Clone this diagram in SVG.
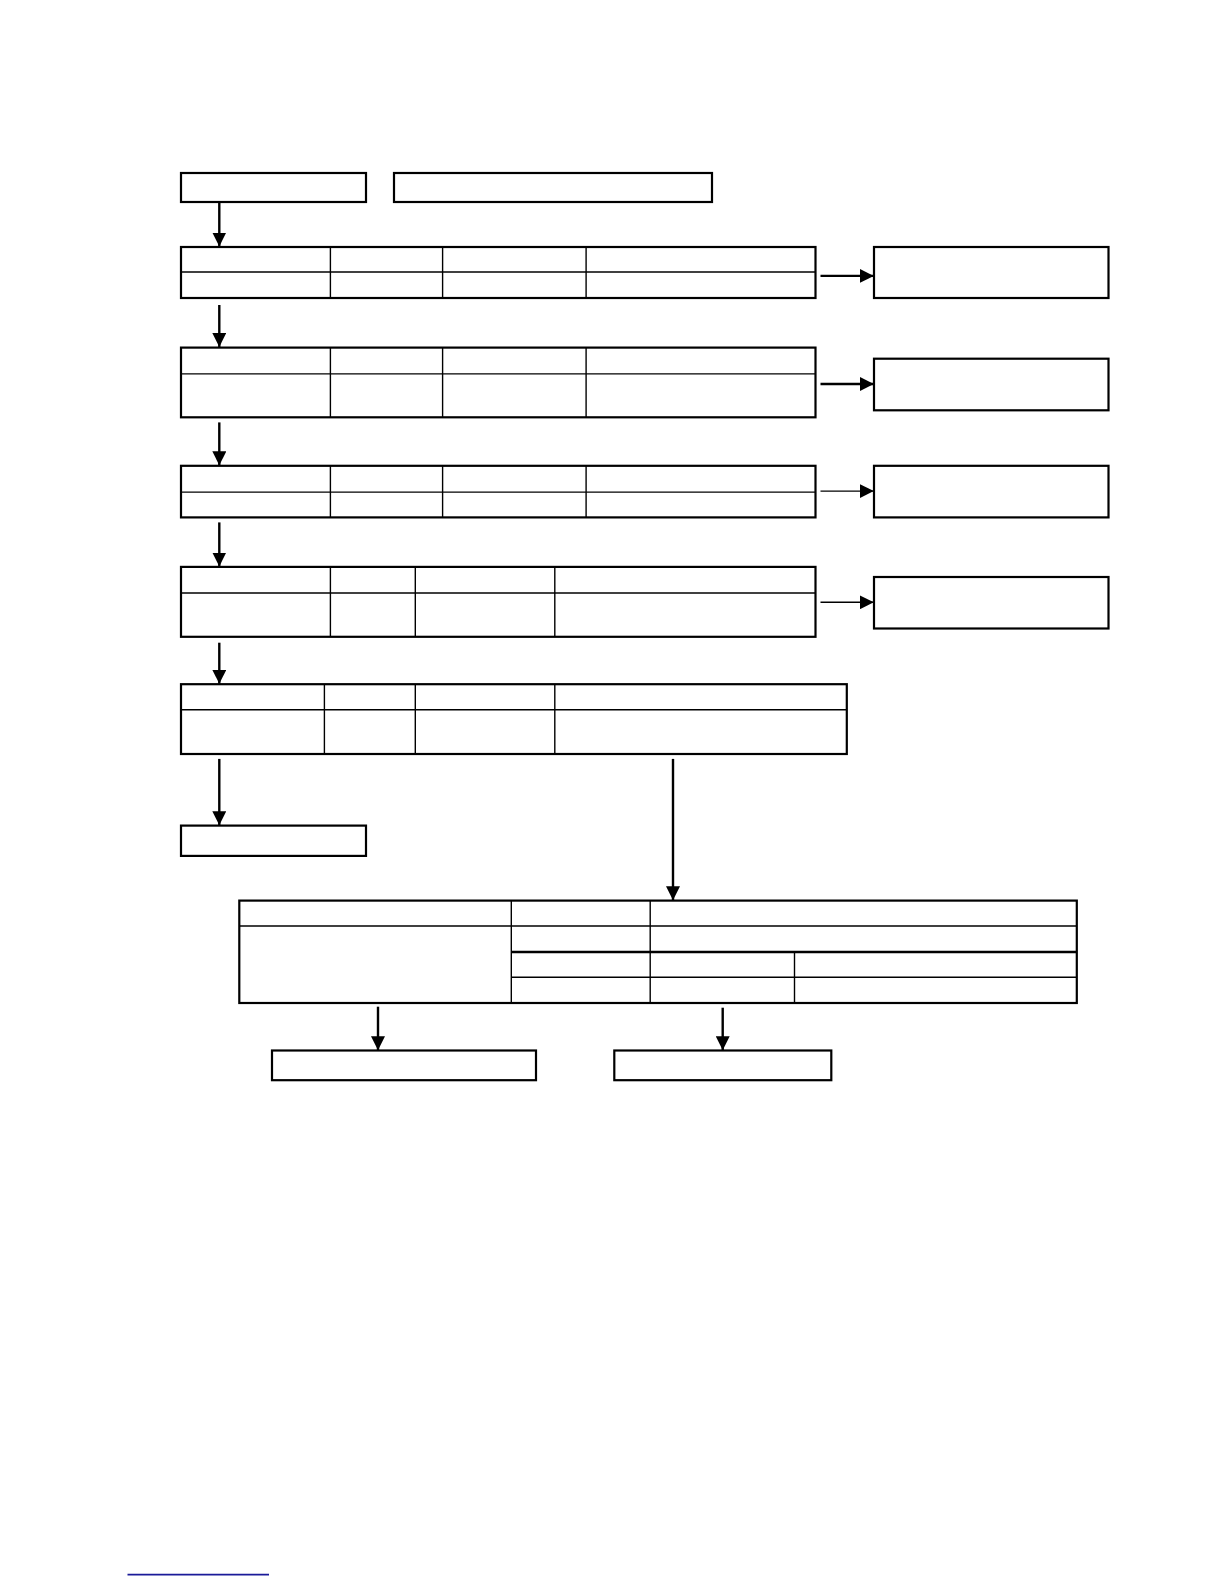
<svg xmlns="http://www.w3.org/2000/svg" width="1224" height="1584" viewBox="0 0 1224 1584">
<style>
  .box{fill:#fff;stroke:#000;stroke-width:2.2}
  .in{stroke:#000;stroke-width:1.4;fill:none}
  .thk{stroke:#000;stroke-width:2.4;fill:none}
  .conn{stroke:#000;stroke-width:2.4;fill:none}
  .thin{stroke:#000;stroke-width:1.4;fill:none}
</style>
<defs>
  <marker id="ah" viewBox="0 0 14 14" markerWidth="14" markerHeight="14" refX="14" refY="7" orient="auto" markerUnits="userSpaceOnUse">
    <path d="M0,0 L14,7 L0,14 Z" fill="#000"/>
  </marker>
</defs>
<rect width="1224" height="1584" fill="#fff"/>

<g id="box-start"><rect class="box" x="181" y="173" width="185" height="29"/></g>
<g id="box-title"><rect class="box" x="394" y="173" width="318" height="29"/></g>

<g id="table1">
  <rect class="box" x="181" y="247" width="634.5" height="51"/>
  <line class="in" x1="181" y1="272" x2="815.5" y2="272"/>
  <line class="in" x1="330.4" y1="247" x2="330.4" y2="298"/>
  <line class="in" x1="442.6" y1="247" x2="442.6" y2="298"/>
  <line class="in" x1="586.1" y1="247" x2="586.1" y2="298"/>
</g>
<g id="side1"><rect class="box" x="874" y="247" width="234.5" height="51"/></g>

<g id="table2">
  <rect class="box" x="181" y="347.6" width="634.5" height="69.7"/>
  <line class="in" x1="181" y1="373.9" x2="815.5" y2="373.9"/>
  <line class="in" x1="330.4" y1="347.6" x2="330.4" y2="417.3"/>
  <line class="in" x1="442.6" y1="347.6" x2="442.6" y2="417.3"/>
  <line class="in" x1="586.1" y1="347.6" x2="586.1" y2="417.3"/>
</g>
<g id="side2"><rect class="box" x="874" y="358.7" width="234.5" height="51.6"/></g>

<g id="table3">
  <rect class="box" x="181" y="465.8" width="634.5" height="51.6"/>
  <line class="in" x1="181" y1="492.1" x2="815.5" y2="492.1"/>
  <line class="in" x1="330.4" y1="465.8" x2="330.4" y2="517.4"/>
  <line class="in" x1="442.6" y1="465.8" x2="442.6" y2="517.4"/>
  <line class="in" x1="586.1" y1="465.8" x2="586.1" y2="517.4"/>
</g>
<g id="side3"><rect class="box" x="874" y="465.8" width="234.5" height="51.6"/></g>

<g id="table4">
  <rect class="box" x="181" y="566.9" width="634.5" height="69.9"/>
  <line class="in" x1="181" y1="593" x2="815.5" y2="593"/>
  <line class="in" x1="330.4" y1="566.9" x2="330.4" y2="636.8"/>
  <line class="in" x1="415.3" y1="566.9" x2="415.3" y2="636.8"/>
  <line class="in" x1="554.8" y1="566.9" x2="554.8" y2="636.8"/>
</g>
<g id="side4"><rect class="box" x="874" y="577" width="234.5" height="51.5"/></g>

<g id="table5">
  <rect class="box" x="181" y="684.2" width="665.8" height="69.8"/>
  <line class="in" x1="181" y1="709.8" x2="846.8" y2="709.8"/>
  <line class="in" x1="324.4" y1="684.2" x2="324.4" y2="754"/>
  <line class="in" x1="415.3" y1="684.2" x2="415.3" y2="754"/>
  <line class="in" x1="554.8" y1="684.2" x2="554.8" y2="754"/>
</g>

<g id="box-end"><rect class="box" x="181" y="825.6" width="185" height="30.3"/></g>

<g id="table6">
  <rect class="box" x="239.3" y="900.6" width="837.5" height="102.4"/>
  <line class="in" x1="239.3" y1="926" x2="1076.8" y2="926"/>
  <line class="thk" x1="511.3" y1="952" x2="1076.8" y2="952"/>
  <line class="in" x1="511.3" y1="977.3" x2="1076.8" y2="977.3"/>
  <line class="in" x1="511.3" y1="900.6" x2="511.3" y2="1003"/>
  <line class="in" x1="650.2" y1="900.6" x2="650.2" y2="1003"/>
  <line class="in" x1="794.5" y1="952" x2="794.5" y2="1003"/>
</g>

<g id="box-out1"><rect class="box" x="272" y="1050.5" width="264" height="29.7"/></g>
<g id="box-out2"><rect class="box" x="614.3" y="1050.5" width="217" height="29.7"/></g>

<g id="connectors">
  <line class="conn" x1="219.3" y1="202" x2="219.3" y2="246.5" marker-end="url(#ah)"/>
  <line class="conn" x1="219.3" y1="305" x2="219.3" y2="347" marker-end="url(#ah)"/>
  <line class="conn" x1="219.3" y1="422.4" x2="219.3" y2="465.3" marker-end="url(#ah)"/>
  <line class="conn" x1="219.3" y1="522.4" x2="219.3" y2="566.5" marker-end="url(#ah)"/>
  <line class="conn" x1="219.3" y1="642.7" x2="219.3" y2="683.8" marker-end="url(#ah)"/>
  <line class="conn" x1="219.3" y1="758.9" x2="219.3" y2="825.2" marker-end="url(#ah)"/>
  <line class="conn" x1="673" y1="758.9" x2="673" y2="900.2" marker-end="url(#ah)"/>
  <line class="conn" x1="378" y1="1006.7" x2="378" y2="1050.2" marker-end="url(#ah)"/>
  <line class="conn" x1="722.7" y1="1007.7" x2="722.7" y2="1050.2" marker-end="url(#ah)"/>
  <line class="conn" x1="820.5" y1="275.9" x2="873.8" y2="275.9" marker-end="url(#ah)"/>
  <line class="conn" x1="820.5" y1="384" x2="873.8" y2="384" marker-end="url(#ah)"/>
  <line class="thin" x1="820.5" y1="491.1" x2="873.8" y2="491.1" marker-end="url(#ah)"/>
  <line class="thin" x1="820.5" y1="602.3" x2="873.8" y2="602.3" marker-end="url(#ah)"/>
</g>

<line x1="127.5" y1="1574.6" x2="269" y2="1574.6" stroke="#1a1a99" stroke-width="1.6"/>
</svg>
